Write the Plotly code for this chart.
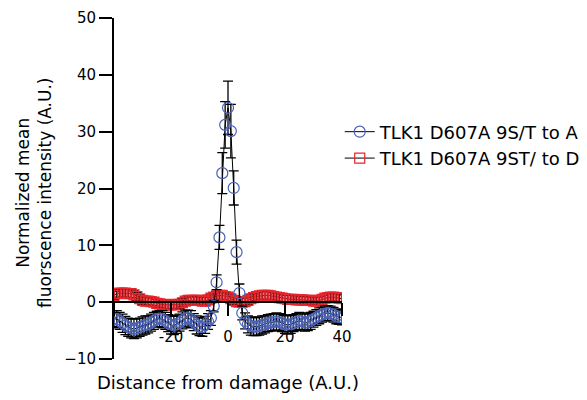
import plotly.graph_objects as go

x_vals = list(range(-40, 41))

blue_mean = [
    -2.9, -3.0, -3.3, -3.7, -4.1, -4.4, -4.6, -4.7, -4.6, -4.4,
    -4.2, -4.0, -3.9, -3.6, -3.3, -3.0, -2.9, -3.0, -3.3, -3.7,
    -4.0, -4.1, -3.9, -3.6, -3.2, -2.9, -2.8, -3.0, -3.5, -4.0,
    -4.3, -4.4, -4.0, -3.4, -2.8, -0.7, 3.5, 11.4, 22.7, 31.2,
    34.2, 30.1, 20.1, 8.8, 1.6, -1.9, -3.3, -3.9, -4.2, -4.3,
    -4.3, -4.2, -4.0, -3.9, -3.7, -3.6, -3.5, -3.4, -3.5, -3.7,
    -3.9, -4.0, -3.9, -3.7, -3.5, -3.3, -3.4, -3.6, -3.5, -3.3,
    -3.0, -2.7, -2.4, -2.2, -2.0, -1.9, -2.0, -2.2, -2.5, -2.6,
    -2.7,
]
blue_err = [
    1.4, 1.5, 1.5, 1.6, 1.6, 1.6, 1.7, 1.7, 1.7, 1.6,
    1.6, 1.6, 1.5, 1.5, 1.5, 1.4, 1.4, 1.5, 1.5, 1.5,
    1.6, 1.6, 1.6, 1.5, 1.5, 1.5, 1.4, 1.5, 1.5, 1.6,
    1.6, 1.6, 1.5, 1.4, 1.3, 1.0, 1.3, 2.1, 3.6, 4.1,
    4.7, 4.7, 3.0, 2.1, 1.6, 1.2, 1.4, 1.5, 1.6, 1.6,
    1.6, 1.6, 1.6, 1.5, 1.5, 1.5, 1.5, 1.5, 1.5, 1.5,
    1.6, 1.6, 1.6, 1.5, 1.5, 1.5, 1.5, 1.5, 1.5, 1.5,
    1.4, 1.4, 1.4, 1.3, 1.3, 1.3, 1.3, 1.3, 1.3, 1.3,
    1.3,
]
red_mean = [
    1.2, 1.5, 1.6, 1.6, 1.6, 1.5, 1.5, 1.3, 1.0, 0.6,
    0.3, 0.2, 0.2, 0.1, 0.0, -0.2, -0.3, -0.4, -0.5, -0.5,
    -0.5, -0.4, -0.5, -0.4, -0.1, 0.2, 0.3, 0.3, 0.3, 0.3,
    0.3, 0.2, 0.2, 0.4, 0.7, 0.9, 1.1, 1.2, 1.2, 1.0,
    0.9, 0.6, 0.3, 0.1, 0.0, 0.0, 0.1, 0.3, 0.6, 0.8,
    1.0, 1.1, 1.2, 1.2, 1.2, 1.1, 1.0, 0.9, 0.8, 0.7,
    0.6, 0.5, 0.5, 0.5, 0.4, 0.4, 0.4, 0.3, 0.3, 0.3,
    0.2, 0.2, 0.3, 0.5, 0.7, 0.8, 0.9, 0.9, 0.8, 0.7,
    0.6,
]
red_err = [0.7] * len(x_vals)

series_names = ["TLK1 D607A 9S/T to A", "TLK1 D607A 9ST/ to D"]
x_range = [-40, 40]
x_ticks = [-40, -20, 0, 20, 40]
x_tick_text = ["", "-20", "0", "20", "40"]
y_ticks = [-10, 0, 10, 20, 30, 40, 50]
y_minor_ticks = [-5, 5, 15, 25, 35, 45]
y_range = [-10, 50]

FONT = "DejaVu Sans"
BLUE = "#4a62b8"
RED = "#e8242c"

fig = go.Figure()
fig.add_trace(go.Scatter(
    x=x_vals, y=red_mean, name=series_names[1], mode="lines+markers",
    legendgroup="b",
    line=dict(color="black", width=1),
    marker=dict(symbol="square-open", size=10, color=RED, line=dict(width=1.2, color=RED)),
    error_y=dict(type="data", array=red_err, color="black", thickness=1.3, width=5),
))
fig.add_trace(go.Scatter(
    x=x_vals, y=blue_mean, name=series_names[0], mode="lines+markers",
    legendgroup="a",
    line=dict(color="black", width=1),
    marker=dict(symbol="circle-open", size=11, color=BLUE, line=dict(width=1.2, color=BLUE)),
    error_y=dict(type="data", array=blue_err, color="black", thickness=1.3, width=5),
))

zero_frac = (0 - y_range[0]) / (y_range[1] - y_range[0])

fig.update_layout(
    width=587, height=400,
    margin=dict(l=114, r=245, t=18, b=41, autoexpand=False),
    paper_bgcolor="white", plot_bgcolor="white",
    font=dict(family=FONT, color="black"),
    showlegend=True,
    legend=dict(
        x=0.99, xanchor="left", y=0.72, yanchor="top",
        traceorder="reversed", tracegroupgap=5,
        font=dict(family=FONT, size=18, color="black"),
        bgcolor="rgba(0,0,0,0)",
    ),
    xaxis=dict(
        range=x_range, anchor="free", position=zero_frac,
        showline=True, linecolor="black", linewidth=2,
        ticks="outside", ticklen=13, tickwidth=2, tickcolor="black",
        tickvals=x_ticks, ticktext=x_tick_text,
        tickfont=dict(family=FONT, size=15, color="black"),
        ticklabelstandoff=8,
        showgrid=False, zeroline=False,
    ),
    yaxis=dict(
        range=y_range,
        showline=True, linecolor="black", linewidth=2,
        ticks="outside", ticklen=13, tickwidth=2, tickcolor="black",
        tickvals=y_ticks,
        tickfont=dict(family=FONT, size=15, color="black"),
        showgrid=False, zeroline=False,
    ),
    yaxis2=dict(
        range=y_range, overlaying="y", side="left", anchor="x",
        showline=False, showgrid=False, zeroline=False,
        ticks="outside", ticklen=7, tickwidth=2, tickcolor="black",
        tickvals=y_minor_ticks, showticklabels=False,
    ),
    yaxis3=dict(
        range=y_range, overlaying="y", side="left", anchor="x",
        showline=False, showgrid=False, zeroline=False,
        ticks="outside", ticklen=20, tickwidth=3, tickcolor="red",
        tickvals=y_ticks, showticklabels=False,
    ),
    annotations=[
        dict(text="Distance from damage (A.U.)", xref="paper", yref="paper",
             x=0.5, y=-23 / 341, xanchor="center", yanchor="middle", showarrow=False,
             font=dict(family=FONT, size=18, color="black")),
        dict(text="Normalized mean<br>fluorscence intensity (A.U.)", xref="paper", yref="paper",
             x=(33.5 - 114) / 228, y=0.5, xanchor="center", yanchor="middle", textangle=-90,
             yshift=-5, showarrow=False,
             font=dict(family=FONT, size=17, color="black")),
    ],
)

fig.write_html("out.html", config={"displayModeBar": False},
               post_script="document.body.style.margin='0';")
